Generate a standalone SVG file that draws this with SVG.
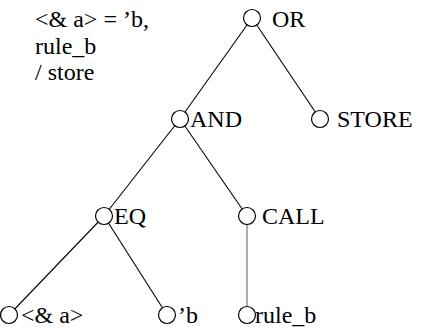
<svg xmlns="http://www.w3.org/2000/svg" width="421" height="329" viewBox="0 0 421 329">
<style>
.n circle { fill: #fff; stroke: #000; stroke-width: 1.2; }
.e line { stroke: #000; stroke-width: 1.1; }
.e .g { stroke: #666; }
</style>
<rect width="421" height="329" fill="#fff"/>
<g id="caption">
<text x="35" y="27" font-family="Liberation Serif" font-size="24">&lt;&amp; a&gt; = &#8217;b,</text>
<text x="35" y="54" font-family="Liberation Serif" font-size="24">rule_b</text>
<text x="35" y="80" font-family="Liberation Serif" font-size="24">/ store</text>
</g>
<g id="connectors" class="e">
<line x1="252" y1="18" x2="180" y2="119"/>
<line x1="252" y1="18" x2="320" y2="119"/>
<line x1="180" y1="119" x2="104" y2="216"/>
<line x1="180" y1="119" x2="247" y2="216"/>
<line x1="104" y1="216" x2="9" y2="315"/>
<line x1="104" y1="216" x2="167" y2="315"/>
<line class="g" x1="247" y1="216" x2="247" y2="315"/>
</g>
<g id="OR" class="n"><circle cx="252" cy="18" r="8.5"/><text x="272" y="27" font-family="Liberation Serif" font-size="24">OR</text></g>
<g id="AND" class="n"><circle cx="180" cy="119" r="8.5"/><text x="190" y="127" font-family="Liberation Serif" font-size="24">AND</text></g>
<g id="STORE" class="n"><circle cx="320" cy="119" r="8.5"/><text x="337" y="127" font-family="Liberation Serif" font-size="24">STORE</text></g>
<g id="EQ" class="n"><circle cx="104" cy="216" r="8.5"/><text x="114" y="224" font-family="Liberation Serif" font-size="24">EQ</text></g>
<g id="CALL" class="n"><circle cx="247" cy="216" r="8.5"/><text x="262" y="224" font-family="Liberation Serif" font-size="24">CALL</text></g>
<g id="amp_a" class="n"><circle cx="9" cy="315" r="8.5"/><text x="21" y="323" font-family="Liberation Serif" font-size="24">&lt;&amp; a&gt;</text></g>
<g id="quote_b" class="n"><circle cx="167" cy="315" r="8.5"/><text x="178" y="323" font-family="Liberation Serif" font-size="24">&#8217;b</text></g>
<g id="rule_b" class="n"><circle cx="247" cy="315" r="8.5"/><text x="255" y="323" font-family="Liberation Serif" font-size="24">rule_b</text></g>
</svg>
